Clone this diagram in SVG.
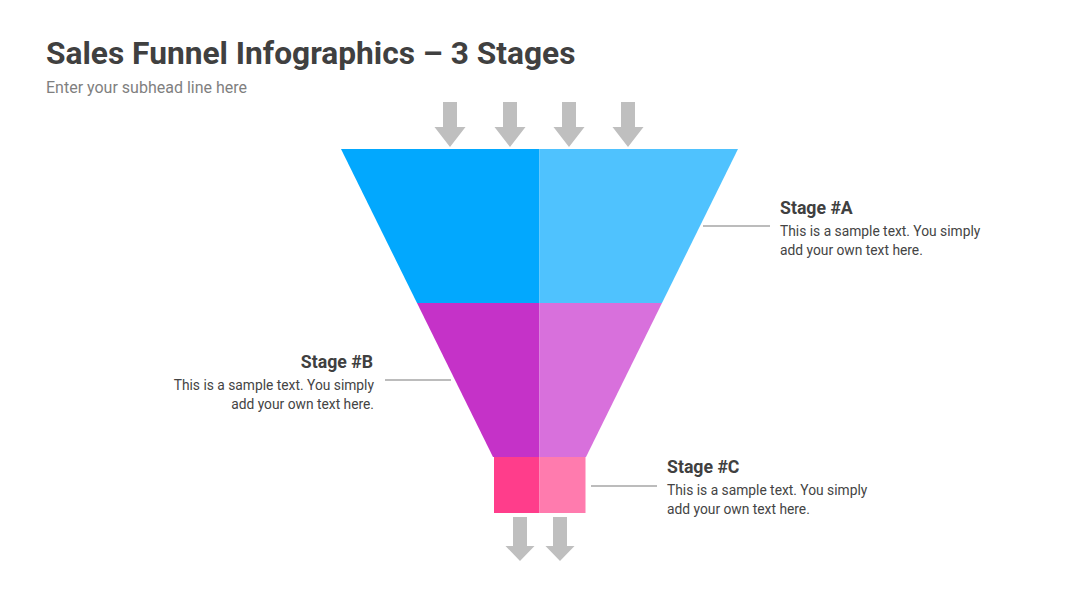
<svg xmlns="http://www.w3.org/2000/svg" width="1080" height="608" viewBox="0 0 1080 608">
<defs>
<style>
.t{font-family:Roboto,"Liberation Sans",sans-serif;}
.h{font-size:17.7px;font-weight:bold;fill:#404040;}
.b{font-size:13.8px;fill:#444;}
.arr{fill:#bfbfbf;}
.ln{stroke:#a6a6a6;stroke-width:1.3;fill:none;}
</style>
<path id="ad" d="M-7,0 H7 V25 H15.5 L0,45 L-15.5,25 H-7 Z"/>
<path id="ad2" d="M-7,0 H7 V29 H14.5 L0,44 L-14.5,29 H-7 Z"/>
</defs>
<rect width="1080" height="608" fill="#fff"/>
<text class="t" x="46" y="64" font-size="31.7" font-weight="bold" fill="#404040">Sales Funnel Infographics – 3 Stages</text>
<text class="t" x="46" y="93" font-size="16" fill="#7f7f7f">Enter your subhead line here</text>
<g id="arrows-in" class="arr">
<use href="#ad" x="450" y="102"/>
<use href="#ad" x="510" y="102"/>
<use href="#ad" x="569" y="102"/>
<use href="#ad" x="628" y="102"/>
</g>
<g id="stageA">
<polygon points="341,149 539.5,149 539.5,303 417,303" fill="#02a8fe"/>
<polygon points="539.5,149 738,149 662,303 539.5,303" fill="#4fc2fe"/>
</g>
<g id="stageB">
<polygon points="417,303 539.5,303 539.5,457 493,457" fill="#c532c8"/>
<polygon points="539.5,303 662,303 586,457 539.5,457" fill="#d870dc"/>
</g>
<g id="stageC">
<rect x="494" y="457" width="45.5" height="56" fill="#ff3d8b"/>
<rect x="539.5" y="457" width="46" height="56" fill="#ff7bae"/>
</g>
<g id="arrows-out" class="arr">
<use href="#ad2" x="520" y="517"/>
<use href="#ad2" x="560" y="517"/>
</g>
<g id="connectors">
<line class="ln" x1="703" y1="226" x2="770" y2="226"/>
<line class="ln" x1="385" y1="380" x2="451" y2="380"/>
<line class="ln" x1="591" y1="486" x2="657" y2="486"/>
</g>
<g id="labelA">
<text class="t h" x="780" y="214">Stage #A</text>
<text class="t b" x="780" y="236">This is a sample text. You simply</text>
<text class="t b" x="780" y="255">add your own text here.</text>
</g>
<g id="labelB" text-anchor="end">
<text class="t h" x="373" y="368">Stage #B</text>
<text class="t b" x="374" y="390">This is a sample text. You simply</text>
<text class="t b" x="374" y="409">add your own text here.</text>
</g>
<g id="labelC">
<text class="t h" x="667" y="473">Stage #C</text>
<text class="t b" x="667" y="495">This is a sample text. You simply</text>
<text class="t b" x="667" y="514">add your own text here.</text>
</g>
</svg>
